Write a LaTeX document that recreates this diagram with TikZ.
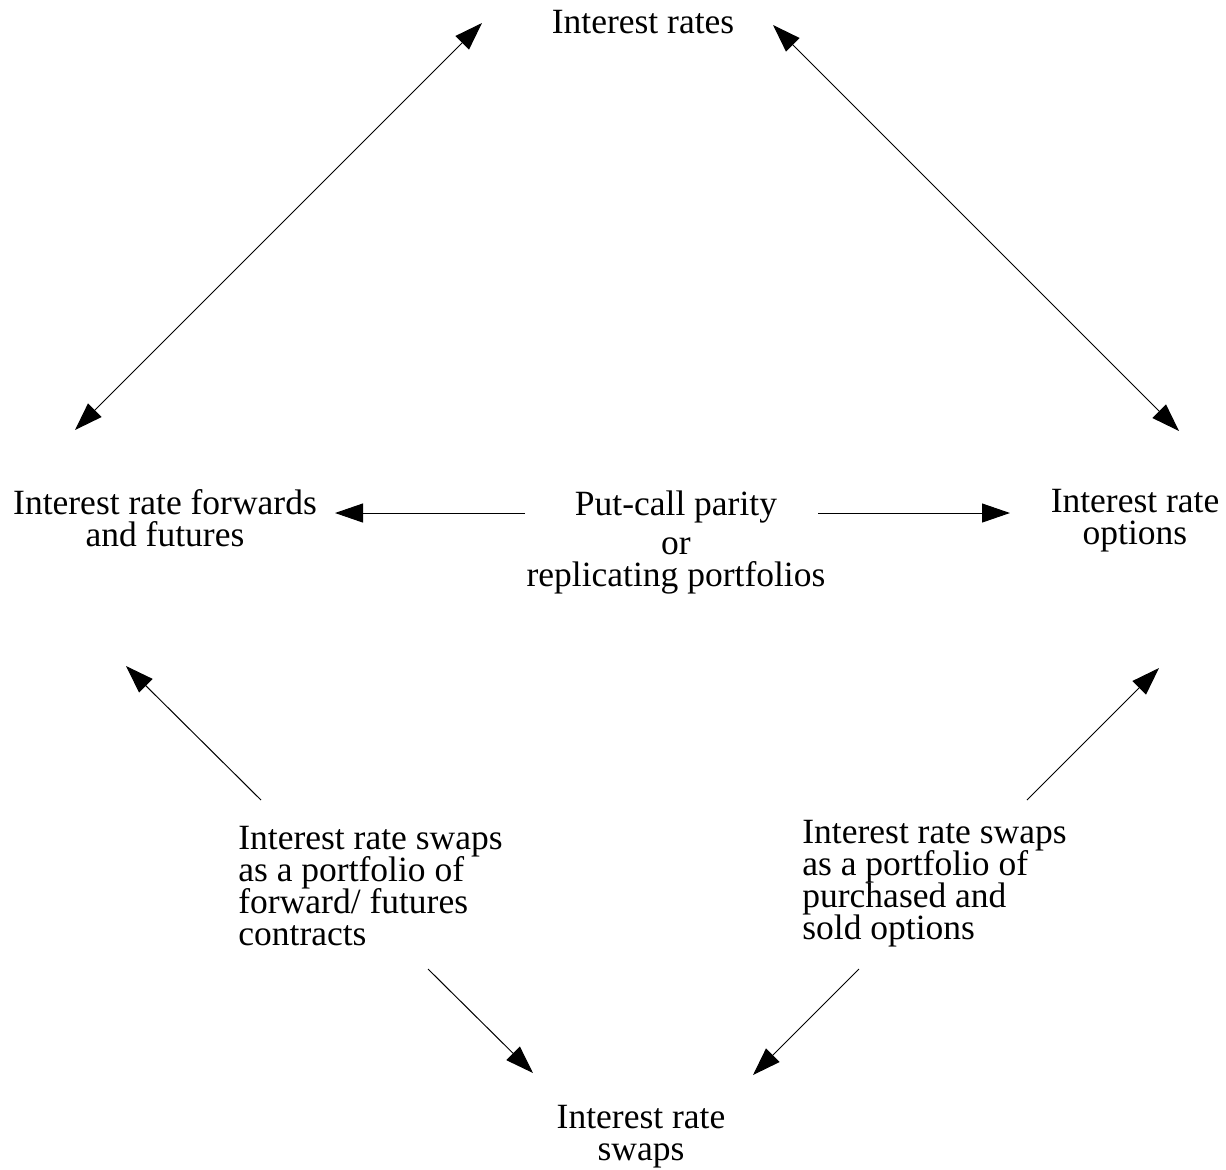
\documentclass[tikz,border=0pt]{standalone}
\usepackage{fontspec}
\setmainfont{Liberation Serif}
\usetikzlibrary{arrows.meta}
\newcommand\lblfont{\fontsize{17.75pt}{16pt}\selectfont}
\begin{document}
\lineskiplimit=-20pt\relax
\begin{tikzpicture}[x=0.5pt,y=-0.5pt,
  lbl/.style={inner sep=0pt, font=\lblfont, anchor=base},
  conn/.style={line width=0.5pt, -{Triangle[length=14pt,width=9.5pt]}},
  dconn/.style={line width=0.5pt, {Triangle[length=14pt,width=9.5pt]}-{Triangle[length=14pt,width=9.5pt]}}]
\useasboundingbox (0,0) rectangle (1226,1169);
% labels (base anchor = baseline of the last line)
\node[lbl] (rates) at (643,33) {Interest rates};
\node[lbl, align=center] (fwd) at (165,546) {Interest rate forwards\\and futures};
\node[lbl, align=center] (pcp) at (676,586) {Put-call parity\\[3.5pt]or\\replicating portfolios};
\node[lbl, align=center] (opt) at (1135,544) {Interest rate\\options};
\node[lbl, align=left, anchor=base west] (swf) at (238,945) {Interest rate swaps\\as a portfolio of\\forward/ futures\\contracts};
\node[lbl, align=left, anchor=base west] (swo) at (802,939) {Interest rate swaps\\as a portfolio of\\purchased and\\sold options};
\node[lbl, align=center] (swaps) at (641,1160) {Interest rate\\swaps};
% connector ends
\coordinate (a1) at (75,430);   \coordinate (a2) at (482,23);
\coordinate (b1) at (773,25);   \coordinate (b2) at (1179,431);
\coordinate (c1) at (525,513);  \coordinate (c2) at (335,513);
\coordinate (d1) at (818,513);  \coordinate (d2) at (1010,513);
\coordinate (e1) at (261,800);  \coordinate (e2) at (126,666);
\coordinate (f1) at (1027,800); \coordinate (f2) at (1159,668);
\coordinate (g1) at (428,969);  \coordinate (g2) at (533,1073);
\coordinate (h1) at (859,969);  \coordinate (h2) at (753,1075);
% connectors
\draw[dconn] (a1) -- (a2);
\draw[dconn] (b1) -- (b2);
\draw[conn] (c1) -- (c2);
\draw[conn] (d1) -- (d2);
\draw[conn] (e1) -- (e2);
\draw[conn] (f1) -- (f2);
\draw[conn] (g1) -- (g2);
\draw[conn] (h1) -- (h2);
\end{tikzpicture}
\end{document}
